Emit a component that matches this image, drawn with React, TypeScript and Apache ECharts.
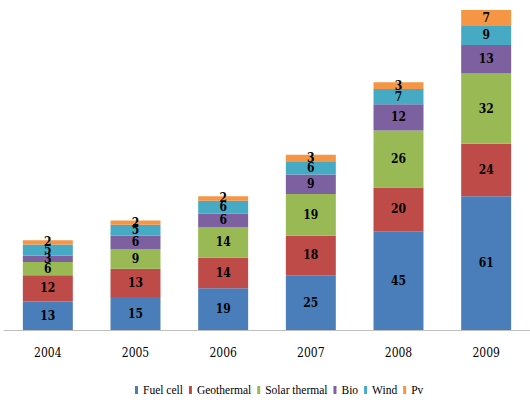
import React, { useEffect, useRef } from "react";
import * as echarts from "echarts";

const years = ["2004", "2005", "2006", "2007", "2008", "2009"];
const fuelCell = [13, 15, 19, 25, 45, 61];
const geothermal = [12, 13, 14, 18, 20, 24];
const solarThermal = [6, 9, 14, 19, 26, 32];
const bio = [3, 6, 6, 9, 12, 13];
const wind = [5, 5, 6, 6, 7, 9];
const pv = [2, 2, 2, 3, 3, 7];

const seriesNames = ["Fuel cell", "Geothermal", "Solar thermal", "Bio", "Wind", "Pv"];
const seriesData = [fuelCell, geothermal, solarThermal, bio, wind, pv];
const colors = ["#4A7EBB", "#BE4B48", "#98B954", "#7D60A0", "#46AAC5", "#F69544"];

const FONT = "DejaVu Serif Condensed";
const LEGEND_FONT = "Liberation Serif";

export default function App() {
  const ref = useRef<HTMLDivElement>(null);
  useEffect(() => {
    if (!ref.current) return;
    const chart = echarts.init(ref.current, null, { renderer: "svg" });
    chart.setOption({
      animation: false,
      backgroundColor: "#ffffff",
      color: colors,
      textStyle: { fontFamily: FONT },
      grid: { left: 4, width: 540, top: 10, height: 320, containLabel: false },
      legend: {
        left: 130,
        top: 379,
        itemWidth: 3,
        itemHeight: 8,
        itemGap: 6,
        icon: "rect",
        textStyle: { fontFamily: LEGEND_FONT, fontSize: 11.5, color: "#000" },
        data: seriesNames,
      },
      xAxis: {
        type: "category",
        data: years,
        axisLine: { lineStyle: { color: "#BFBFBF", width: 1 } },
        axisTick: { show: false },
        axisLabel: { fontFamily: FONT, fontSize: 12, color: "#000", margin: 17 },
      },
      yAxis: {
        type: "value",
        min: 0,
        max: 146,
        show: false,
        splitLine: { show: false },
      },
      series: seriesNames.map((name, i) => ({
        name,
        type: "bar",
        stack: "total",
        barWidth: "57%",
        data: seriesData[i],
        itemStyle: { color: colors[i] },
        label: {
          show: true,
          position: "inside",
          fontFamily: FONT,
          fontWeight: "bold",
          fontSize: 12,
          color: "#000",
        },
      })),
    });
    return () => chart.dispose();
  }, []);
  return (
    <div
      ref={ref}
      style={{ position: "absolute", left: 0, top: 0, width: 530, height: 403 }}
    />
  );
}
